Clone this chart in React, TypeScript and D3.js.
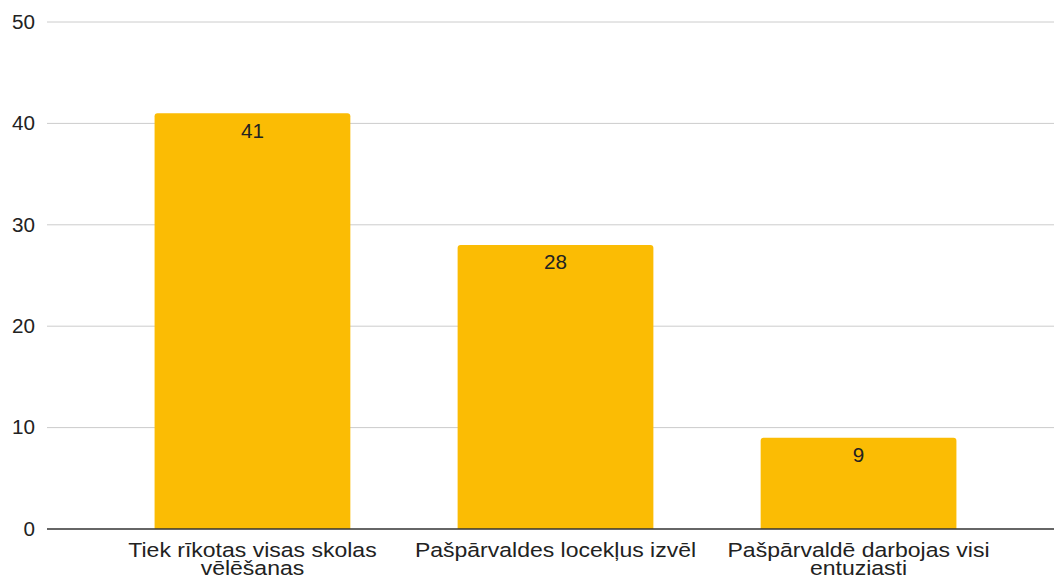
import { useEffect, useRef } from 'react';
import * as d3 from 'd3';

const categories = [
  'Tiek rīkotas visas skolas vēlēšanas',
  'Pašpārvaldes locekļus izvēl',
  'Pašpārvaldē darbojas visi entuziasti',
];
const values = [41, 28, 9];
const yTicks = [0, 10, 20, 30, 40, 50];

const WIDTH = 1054;
const HEIGHT = 578;

export default function App() {
  const ref = useRef<SVGSVGElement | null>(null);

  useEffect(() => {
    const svg = d3.select(ref.current);
    svg.selectAll('*').remove();

    const left = 47;
    const top = 22;
    const bottom = 529;

    const x = d3
      .scaleBand<string>()
      .domain(categories)
      .range([left, 1064])
      .paddingInner(0.354)
      .paddingOuter(0.355);
    const y = d3.scaleLinear().domain([0, 50]).range([bottom, top]);

    const font = 'Arial, "Liberation Sans", sans-serif';

    // gridlines
    svg
      .append('g')
      .selectAll('line')
      .data(yTicks.filter((t) => t > 0))
      .enter()
      .append('line')
      .attr('x1', left)
      .attr('x2', WIDTH)
      .attr('y1', (d) => y(d))
      .attr('y2', (d) => y(d))
      .attr('stroke', '#cccccc')
      .attr('stroke-width', 1);

    // y tick labels
    svg
      .append('g')
      .selectAll('text')
      .data(yTicks)
      .enter()
      .append('text')
      .attr('transform', (d) => `translate(35,${y(d)}) scale(1.06,1)`)
      .attr('dy', '0.35em')
      .attr('text-anchor', 'end')
      .style('font-family', font)
      .style('font-size', '19.5px')
      .style('fill', '#222')
      .text((d) => d);

    // bars
    const bw = x.bandwidth();
    svg
      .append('g')
      .selectAll('path')
      .data(values)
      .enter()
      .append('path')
      .attr('d', (d, i) => {
        const x0 = x(categories[i])!;
        const y0 = y(d);
        const r = 3;
        return `M${x0},${bottom}V${y0 + r}Q${x0},${y0} ${x0 + r},${y0}H${x0 + bw - r}Q${x0 + bw},${y0} ${x0 + bw},${y0 + r}V${bottom}Z`;
      })
      .attr('fill', '#fbbc04');

    // value labels
    svg
      .append('g')
      .selectAll('text')
      .data(values)
      .enter()
      .append('text')
      .attr('transform', (d, i) => `translate(${x(categories[i])! + bw / 2},${y(d) + 17.5}) scale(1.06,1)`)
      .attr('dy', '0.35em')
      .attr('text-anchor', 'middle')
      .style('font-family', font)
      .style('font-size', '19.5px')
      .style('fill', '#222')
      .text((d) => d);

    // baseline
    svg
      .append('line')
      .attr('x1', left)
      .attr('x2', WIDTH)
      .attr('y1', bottom)
      .attr('y2', bottom)
      .attr('stroke', '#333')
      .attr('stroke-width', 1.5);

    // category labels, wrapped
    const sx = 1.18;
    const maxW = 295;
    categories.forEach((c) => {
      const t = svg
        .append('text')
        .attr('transform', `translate(${x(c)! + bw / 2},556.5) scale(${sx},1)`)
        .attr('text-anchor', 'middle')
        .style('font-family', font)
        .style('font-size', '19.5px')
        .style('fill', '#222');
      const words = c.split(' ');
      let line: string[] = [];
      let ts = t.append('tspan').attr('x', 0).attr('dy', 0);
      words.forEach((w) => {
        line.push(w);
        ts.text(line.join(' '));
        if ((ts.node() as SVGTSpanElement).getComputedTextLength() * sx > maxW && line.length > 1) {
          line.pop();
          ts.text(line.join(' '));
          line = [w];
          ts = t.append('tspan').attr('x', 0).attr('dy', '19px').text(w);
        }
      });
    });
  }, []);

  return (
    <svg
      ref={ref}
      width={WIDTH}
      height={HEIGHT}
      style={{ position: 'fixed', top: 0, left: 0, background: '#fff' }}
    />
  );
}
